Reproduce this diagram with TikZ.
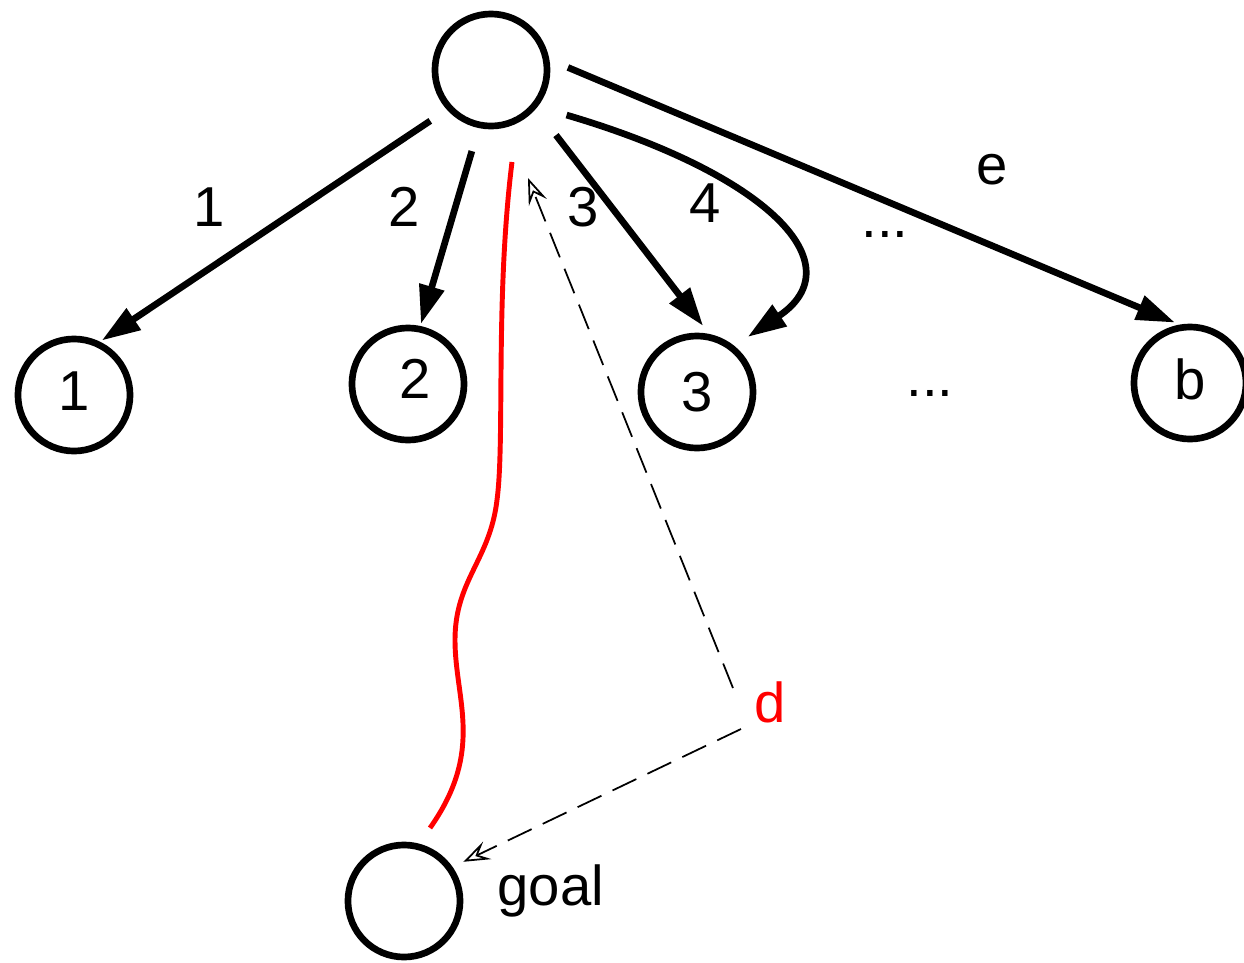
\documentclass[tikz,border=0pt]{standalone}
\usepackage{fontspec}
\setmainfont{Liberation Sans}
\usetikzlibrary{arrows.meta}

\begin{document}
\begin{tikzpicture}[x=0.01cm,y=-0.01cm,
    every node/.style={font=\fontsize{16}{19}\selectfont},
    state/.style={circle,draw,line width=1.9pt,minimum size=1.12cm,inner sep=0pt},
    edge/.style={line width=1.9pt,-{Triangle[length=11pt,width=7pt]}},
    hint/.style={line width=0.5pt,dash pattern=on 7.5pt off 3.5pt,-{Stealth[open,length=7.5pt,width=5.5pt,inset=3pt]}}]
    \useasboundingbox (0,0) rectangle (1244,963);

    \node[state] (root) at (491,70) {};
    \node[state] (n1) at (74,395) {\raisebox{2pt}{1}};
    \node[state] (n2) at (408,384) {\raisebox{3pt}{\hspace{4pt}2}};
    \node[state] (n3) at (697,392) {\raisebox{-2pt}{3}};
    \node[state] (nb) at (1190,383) {\raisebox{2pt}{b}};
    \node[state] (goal) at (404,901) {};

    \draw[edge,shorten <=0.2cm,shorten >=0.02cm] (root.222) -- (n1.64);
    \draw[edge,shorten <=0.24cm,shorten >=0.02cm] (root.258) -- (n2.78);
    \draw[edge,shorten <=0.33cm,shorten >=0.1cm] (root.319) -- (n3.78);
    \draw[edge,shorten <=0.3cm,shorten >=0.16cm] (root.-38) .. controls (770,175) and (855,265) .. (n3.51);
    \draw[edge,shorten <=0.2cm,shorten >=0.05cm] (root.10) -- (nb.100);

    \node (l1) at (209,207) {1};
    \node (l2) at (404,207) {2};
    \node (l3) at (583,207) {3};
    \node (l4) at (705,203) {4};
    \node (le) at (992,170) {e};
    \node (dots1) at (885,234) {...};
    \node (dots2) at (930,393) {...};
    \node[red,anchor=base west,inner sep=0pt] (ld) at (754,722) {d};
    \node[anchor=base west,inner sep=0pt] (lgoal) at (497,905) {goal};

    % path found so far
    \draw[red,line width=1.4pt] (512,162) .. controls (495,300) and (505,440) .. (497,500)
        .. controls (490,560) and (455,580) .. (455,640)
        .. controls (455,700) and (485,750) .. (430,828);

    \coordinate (dup) at (733,688);
    \coordinate (dtip) at (528,178);
    \coordinate (ddown) at (741,729);
    \draw[hint] (dup) -- (dtip);
    \draw[hint,shorten >=0.12cm] (ddown) -- (goal.35);
\end{tikzpicture}
\end{document}
